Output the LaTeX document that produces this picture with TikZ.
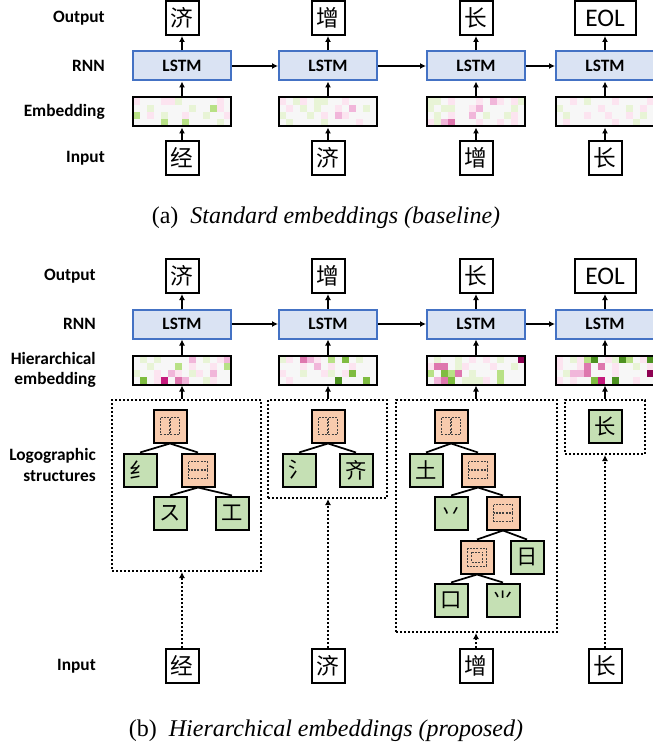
\documentclass[tikz,border=0pt]{standalone}
\usepackage{fontspec}
\setmainfont{Liberation Serif}
\setsansfont{Carlito}
\newfontfamily\cjk{Noto Sans CJK SC}
\usetikzlibrary{arrows.meta}

% PiYG-like colours for the embedding cells
\definecolor{M4}{HTML}{8E0152}
\definecolor{M3}{HTML}{C51B7D}
\definecolor{M2}{HTML}{DE77AE}
\definecolor{M1}{HTML}{F1B6DA}
\definecolor{M0}{HTML}{FCE4F0}
\definecolor{W}{HTML}{F7F7F7}
\definecolor{G0}{HTML}{E8F4D6}
\definecolor{G1}{HTML}{B8E186}
\definecolor{G2}{HTML}{7FBC41}
\definecolor{G3}{HTML}{4D9221}
\definecolor{lstmblue}{HTML}{4472C4}
\definecolor{lstmfill}{HTML}{DAE3F3}
\definecolor{leafgreen}{HTML}{C5E0B4}
\definecolor{compfill}{HTML}{F8CBAD}

% cells of an embedding: centre x, centre y, rows
\newcommand{\embcells}[3]{%
  \foreach \row [count=\j from 0] in {#3}
    \foreach \c [count=\i from 0] in \row
      \fill[fill=\c] (#1-49+7*\i, #2-14.5+7.25*\j) rectangle ++(7,7.25);
}

\tikzset{
  lbl/.style={anchor=east, align=right, inner sep=0pt, font=\fontsize{13}{15.5}\selectfont\sffamily\bfseries},
  chr/.style={draw, line width=1.5pt, minimum width=24.75pt, minimum height=25.5pt, inner sep=0pt, font=\fontsize{17}{17}\selectfont\cjk},
  eol/.style={chr, minimum width=45.75pt, font=\fontsize{19}{19}\selectfont\sffamily},
  lstm/.style={draw=lstmblue, fill=lstmfill, line width=1.5pt, minimum width=73.5pt, minimum height=21.75pt, inner sep=0pt, font=\fontsize{13}{13}\selectfont\sffamily\bfseries},
  emb/.style={draw, line width=1.5pt, minimum width=73.5pt, minimum height=21.75pt, inner sep=0pt},
  leaf/.style={draw, fill=leafgreen, line width=1.5pt, minimum size=24.75pt, inner sep=0pt, font=\fontsize{16}{16}\selectfont\cjk},
  comp/.style={leaf, fill=compfill},
  icon/.style={draw=black!75, line width=0.5pt, dash pattern=on 1.5pt off 1pt},
  lr/.style={comp, path picture={
      \begin{scope}[shift={(path picture bounding box.center)}]
        \draw[icon] (-9.5,-8.5) rectangle (-0.5,8.5);
        \draw[icon] (0.5,-8.5) rectangle (9.5,8.5);
      \end{scope}}},
  tb/.style={comp, path picture={
      \begin{scope}[shift={(path picture bounding box.center)}]
        \draw[icon] (-9.5,-8.5) rectangle (9.5,-0.5);
        \draw[icon] (-9.5,0.5) rectangle (9.5,8.5);
      \end{scope}}},
  sur/.style={comp, path picture={
      \begin{scope}[shift={(path picture bounding box.center)}]
        \draw[icon] (-9.5,-9) rectangle (9.5,9);
        \draw[icon] (-5.5,-5) rectangle (5.5,5);
      \end{scope}}},
  grp/.style={draw, line width=1.5pt, dash pattern=on 1.5pt off 1.5pt, inner sep=0pt},
  edge/.style={line width=1.3pt},
  arr/.style={-{Latex[length=4.5pt,width=4.5pt]}, line width=1.1pt},
  darr/.style={arr, dash pattern=on 1.5pt off 1.5pt, line width=1.5pt},
  capt/.style={font=\fontsize{18}{18}\selectfont}
}

\begin{document}
\begin{tikzpicture}[x=0.75pt, y=-0.75pt]

	\useasboundingbox (0,0) rectangle (652,748);

	%% (a) standard embeddings
	\node[lbl] (la-out) at (105,18) {Output};
	\node[lbl] (la-rnn) at (105,66) {RNN};
	\node[lbl] (la-emb) at (105,112) {Embedding};
	\node[lbl] (la-in) at (105,158) {Input};

	\embcells{182}{112}{{M0,W,W,W,M0,M0,G0,W,W,W,W,W,M0,W},{W,W,G0,W,W,W,W,W,G0,W,W,G1,M0,W},{G1,W,M0,W,G0,W,W,M0,W,W,G0,W,W,M0},{W,W,W,W,G1,W,W,G1,W,W,W,W,G0,W}}
	\embcells{328}{112}{{M0,W,G0,M0,W,G0,G0,W,W,M0,W,W,W,W},{W,M0,W,G0,W,G0,W,W,M0,W,M1,W,G0,W},{G0,W,W,W,G0,W,M0,W,M1,M0,W,W,W,W},{W,G0,W,W,W,W,G0,W,W,W,W,M0,W,W}}
	\embcells{476}{112}{{G0,G0,W,M0,W,W,W,M0,W,M1,M0,W,M0,G0},{G0,W,G0,G0,W,W,M0,M1,W,W,W,W,G0,W},{W,G0,W,M0,W,W,M1,W,G0,W,W,G0,M0,W},{M0,G0,M1,M2,W,W,W,M0,W,W,M0,W,M0,W}}
	\embcells{605}{112}{{W,W,M0,W,G0,W,W,W,M0,W,W,W,W,M0},{G0,W,W,W,W,W,M0,W,W,W,G0,W,M0,W},{W,G0,W,W,M0,W,W,M0,W,W,M0,W,G0,W},{W,M0,W,W,W,W,W,W,M0,W,W,G0,W,W}}

	\foreach \n/\x/\ch in {1/182/经,2/328/济,3/476/增,4/605/长} {
		\node[chr] (ina\n) at (\x,158) {\ch};
		\node[emb] (emba\n) at (\x,112) {};
		\node[lstm] (lstma\n) at (\x,66) {LSTM};
	}
	\foreach \n/\x/\ch in {1/182/济,2/328/增,3/476/长}
		\node[chr] (outa\n) at (\x,18) {\ch};
	\node[eol] (outa4) at (605,18) {EOL};

	\foreach \n in {1,...,4} {
		\draw[arr] (ina\n) -- (emba\n);
		\draw[arr] (emba\n) -- (lstma\n);
		\draw[arr] (lstma\n) -- (outa\n);
	}
	\foreach \n/\m in {1/2,2/3,3/4}
		\draw[arr] (lstma\n) -- (lstma\m);

	\node[capt] (capa) at (326,218) {(a)\enspace\textit{Standard embeddings (baseline)}};

	%% (b) hierarchical embeddings
	\node[lbl] (lb-out) at (96,276) {Output};
	\node[lbl] (lb-rnn) at (96,324) {RNN};
	\node[lbl] (lb-emb) at (96,370) {Hierarchical\\embedding};
	\node[lbl] (lb-log) at (96,465) {Logographic\\structures};
	\node[lbl] (lb-in) at (96,666) {Input};

	\embcells{182}{370}{{W,G0,W,G0,W,W,W,W,M1,W,G0,W,M0,M1},{W,W,G0,W,W,W,G1,W,M0,W,W,M0,W,G1},{G0,W,W,M0,W,M1,M0,W,G0,M0,W,M1,W,W},{W,G2,W,M0,M3,W,M2,M1,W,W,G0,M0,W,W}}
	\embcells{328}{370}{{G0,M0,W,M2,M1,M0,W,G1,W,G2,W,G0,W,W},{W,W,W,M0,W,M1,W,M0,W,W,M0,W,W,W},{M0,W,W,G0,W,W,M0,G0,W,M0,G2,W,W,W},{W,M0,W,W,W,W,W,W,G3,W,W,W,G2,W}}
	\embcells{476}{370}{{W,G0,W,W,G0,W,M0,W,M0,W,G0,W,W,M4},{M0,M2,M2,W,G0,M0,W,W,W,M0,W,W,G0,W},{G1,W,G2,G1,M2,W,G0,W,W,W,G1,W,W,W},{W,M1,M2,G2,W,G0,G0,G0,M0,W,G1,W,W,W}}
	\embcells{605}{370}{{M0,W,G0,M0,G1,G3,W,M0,G0,G3,G1,W,M0,G3},{M0,W,W,M0,M2,W,M2,W,M0,W,W,G0,W,M0},{W,G0,M1,M1,M2,W,W,W,M0,W,W,W,W,M4},{M0,W,M0,W,W,G2,M3,W,G3,W,W,M0,W,W}}

	\foreach \n/\x/\ch in {1/182/经,2/328/济,3/476/增,4/605/长} {
		\node[chr] (inb\n) at (\x,666) {\ch};
		\node[emb] (embb\n) at (\x,370) {};
		\node[lstm] (lstmb\n) at (\x,324) {LSTM};
	}
	\foreach \n/\x/\ch in {1/182/济,2/328/增,3/476/长}
		\node[chr] (outb\n) at (\x,276) {\ch};
	\node[eol] (outb4) at (605,276) {EOL};

	% logographic structures
	\node[grp, minimum width=111.75pt, minimum height=128.25pt] (grp1) at (186.5,485.5) {};
	\node[grp, minimum width=89.25pt, minimum height=73.5pt] (grp2) at (327.5,449) {};
	\node[grp, minimum width=120.75pt, minimum height=174pt] (grp3) at (476.5,516) {};
	\node[grp, minimum width=60pt, minimum height=40.5pt] (grp4) at (605,427) {};

	\node[lr] (r1) at (170,426) {};
	\node[leaf] (s1a) at (140,470) {纟};
	\node[tb] (t1) at (198,470) {};
	\node[leaf] (s1b) at (170,513) {ス};
	\node[leaf] (s1c) at (232,513) {工};
	\draw[edge] (r1.south) -- (s1a.north);
	\draw[edge] (r1.south) -- (t1.north);
	\draw[edge] (t1.south) -- (s1b.north);
	\draw[edge] (t1.south) -- (s1c.north);

	\node[lr] (r2) at (328,426) {};
	\node[leaf] (s2a) at (299,470) {氵};
	\node[leaf] (s2b) at (356,470) {齐};
	\draw[edge] (r2.south) -- (s2a.north);
	\draw[edge] (r2.south) -- (s2b.north);

	\node[lr] (r3) at (451,426) {};
	\node[leaf] (s3a) at (426,470) {土};
	\node[tb] (t3) at (478,470) {};
	\node[leaf] (s3b) at (451,513) {丷};
	\node[tb] (u3) at (503,513) {};
	\node[sur] (v3) at (477,557) {};
	\node[leaf] (s3c) at (527,557) {日};
	\node[leaf] (s3d) at (451,600) {口};
	\node[leaf] (s3e) at (503,600) {⺌};
	\draw[edge] (r3.south) -- (s3a.north);
	\draw[edge] (r3.south) -- (t3.north);
	\draw[edge] (t3.south) -- (s3b.north);
	\draw[edge] (t3.south) -- (u3.north);
	\draw[edge] (u3.south) -- (v3.north);
	\draw[edge] (u3.south) -- (s3c.north);
	\draw[edge] (v3.south) -- (s3d.north);
	\draw[edge] (v3.south) -- (s3e.north);

	\node[leaf] (s4a) at (605,426) {长};

	\foreach \n in {1,...,4} {
		\draw[darr] (inb\n.north) -- (inb\n.north |- grp\n.south);
		\draw[arr] (grp\n.north -| embb\n.south) -- (embb\n.south);
		\draw[arr] (embb\n) -- (lstmb\n);
		\draw[arr] (lstmb\n) -- (outb\n);
	}
	\foreach \n/\m in {1/2,2/3,3/4}
		\draw[arr] (lstmb\n) -- (lstmb\m);

	\node[capt] (capb) at (326,731) {(b)\enspace\textit{Hierarchical embeddings (proposed)}};

\end{tikzpicture}
\end{document}
